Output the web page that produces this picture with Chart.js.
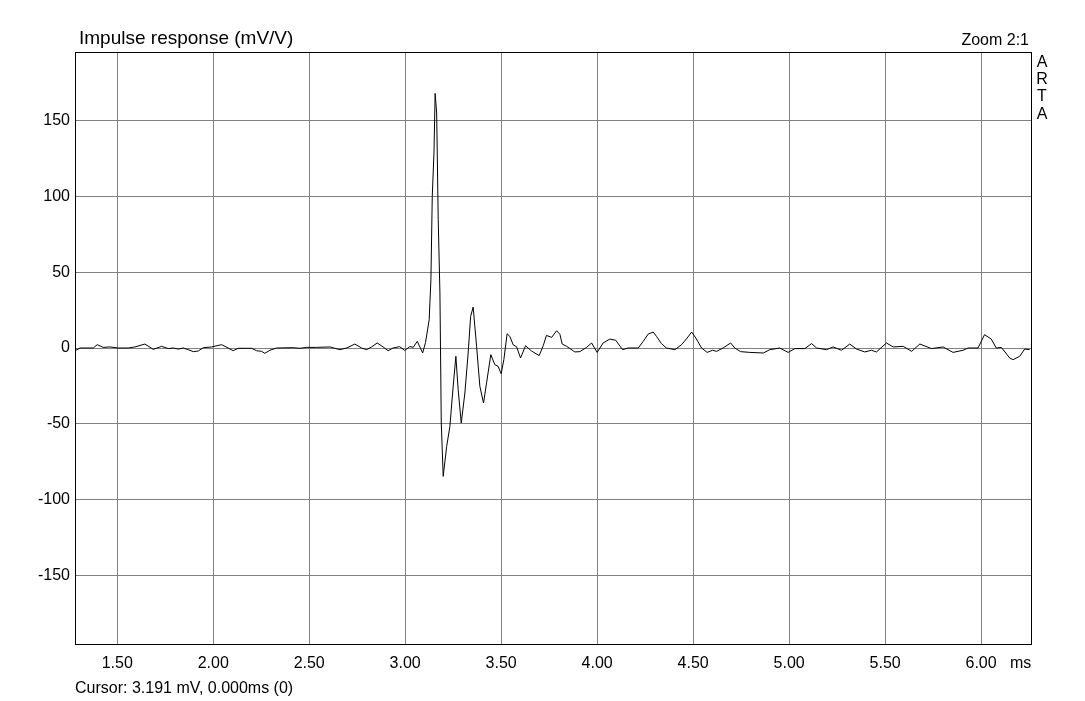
<!DOCTYPE html>
<html>
<head>
<meta charset="utf-8">
<script src="https://cdn.jsdelivr.net/npm/chart.js@4.4.1/dist/chart.umd.min.js"></script>
<style>
  html, body { margin: 0; padding: 0; background: #ffffff; }
  #wrap { width: 1085px; height: 701px; position: relative; }
  canvas { display: block; }
</style>
</head>
<body>
<div id="wrap"><canvas id="c" width="1085" height="701"></canvas></div>
<script>
// ---- data ----
const timeMs = [1.285,1.306,1.375,1.396,1.427,1.462,1.505,1.557,1.592,1.644,1.688,1.731,1.766,1.792,1.818,1.844,1.870,1.896,1.922,1.948,1.992,2.044,2.078,2.104,2.130,2.174,2.200,2.226,2.252,2.269,2.295,2.330,2.417,2.452,2.486,2.539,2.608,2.660,2.695,2.738,2.773,2.799,2.825,2.854,2.885,2.911,2.937,2.971,2.998,3.024,3.042,3.063,3.091,3.106,3.125,3.134,3.141,3.150,3.156,3.164,3.172,3.181,3.188,3.198,3.216,3.233,3.247,3.264,3.276,3.292,3.311,3.328,3.341,3.354,3.372,3.389,3.408,3.424,3.446,3.467,3.484,3.500,3.514,3.531,3.545,3.563,3.580,3.601,3.627,3.658,3.698,3.719,3.736,3.763,3.789,3.806,3.818,3.841,3.884,3.910,3.945,3.971,4.000,4.031,4.066,4.097,4.132,4.161,4.214,4.240,4.266,4.292,4.309,4.335,4.361,4.405,4.440,4.469,4.492,4.514,4.544,4.573,4.601,4.622,4.656,4.695,4.717,4.747,4.795,4.865,4.900,4.951,4.995,5.030,5.082,5.117,5.143,5.195,5.229,5.273,5.316,5.351,5.394,5.429,5.455,5.507,5.542,5.594,5.638,5.681,5.742,5.802,5.854,5.906,5.932,5.984,6.018,6.053,6.079,6.106,6.149,6.167,6.201,6.227,6.253];
const responseMv = [-1.5,0,0,2.2,0.4,0.7,0,0,0.7,2.6,-0.9,1.1,-0.4,0,-0.7,0,-1.1,-2.4,-2.0,0.2,0.7,2.2,0,-1.8,-0.2,-0.2,-0.2,-1.8,-2.2,-3.5,-1.5,0,0.2,-0.2,0.4,0.4,0.7,-1.1,0,2.6,0,-1.1,0.7,3.3,0.7,-1.8,0,0.9,-1.6,0.9,0.5,4.4,-3.3,3.7,18.7,45,100,128.7,168,155,84.7,36.3,-49.5,-84.7,-65,-51.7,-29.7,-5.5,-27.5,-49.5,-29.7,-3.3,20.9,27,1,-25.3,-36.3,-23,-4.4,-11,-12.1,-17,-7.7,9.4,7.7,2,0.9,-6.6,1.5,-2,-5,1.5,8.3,7,11.4,9,2.6,1.1,-2.6,-2.4,0.4,3.3,-2.9,3.3,5.9,5.1,-1.1,0,0,4.4,9.2,10.5,7.7,2.9,0,-1.1,2.2,6.6,10.5,6.6,0,-2.9,-1.5,-2.2,0,3.3,0,-2.4,-2.9,-3.3,-1.1,0,-2.9,-0.4,-0.4,2.9,0,-1.1,0.7,-1.5,2.6,-0.7,-2.6,-1.5,-2.6,3.3,0.7,1.1,-2.2,2.6,-0.4,0.7,-2.9,-1.5,0,0,8.8,5.9,0,0.4,-6.6,-7.7,-5.5,-0.7,-1.1];
const xTicks = [1.5, 2.0, 2.5, 3.0, 3.5, 4.0, 4.5, 5.0, 5.5, 6.0];
const yTicks = [-150, -100, -50, 0, 50, 100, 150];
const titleText = 'Impulse response (mV/V)';
const zoomText = 'Zoom 2:1';
const brandLetters = ['A', 'R', 'T', 'A'];
const xUnit = 'ms';
const cursorText = 'Cursor: 3.191 mV, 0.000ms (0)';

const FONT = '"Liberation Sans", Arial, Helvetica, sans-serif';
const points = timeMs.map((t, i) => ({ x: t, y: responseMv[i] }));

const decor = {
  id: 'decor',
  afterDraw(chart) {
    const ctx = chart.ctx;
    const a = chart.chartArea;
    ctx.save();
    ctx.strokeStyle = '#000';
    ctx.lineWidth = 1;
    ctx.strokeRect(a.left + 0.5, a.top + 0.5, a.right - a.left, a.bottom - a.top);
    ctx.fillStyle = '#000';
    ctx.textBaseline = 'alphabetic';
    ctx.font = '19px ' + FONT;
    ctx.textAlign = 'left';
    ctx.fillText(titleText, 79, 44);
    ctx.font = '16px ' + FONT;
    ctx.textAlign = 'right';
    ctx.fillText(zoomText, 1029, 45);
    ctx.textAlign = 'center';
    brandLetters.forEach((ch, i) => ctx.fillText(ch, 1042, 67 + i * 17.2));
    ctx.textAlign = 'left';
    ctx.fillText(xUnit, 1010, 668);
    ctx.fillText(cursorText, 75, 693);
    ctx.restore();
  }
};

new Chart(document.getElementById('c'), {
  type: 'line',
  data: {
    datasets: [{
      data: points,
      borderColor: '#000000',
      borderWidth: 1,
      pointRadius: 0,
      tension: 0,
      fill: false
    }]
  },
  options: {
    responsive: false,
    animation: false,
    events: [],
    layout: { padding: { top: 52, right: 54, left: 0, bottom: 0 } },
    plugins: { legend: { display: false }, tooltip: { enabled: false }, title: { display: false } },
    scales: {
      x: {
        type: 'linear',
        min: 1.28,
        max: 6.26,
        afterBuildTicks: s => { s.ticks = xTicks.map(v => ({ value: v })); },
        afterFit: s => { s.height = 57; },
        border: { display: false },
        grid: { color: '#808080', lineWidth: 1, drawTicks: false },
        ticks: {
          color: '#000',
          font: { family: FONT, size: 16 },
          padding: 10,
          maxRotation: 0,
          autoSkip: false,
          callback: v => Number(v).toFixed(2)
        }
      },
      y: {
        type: 'linear',
        min: -195.3,
        max: 195.3,
        afterBuildTicks: s => { s.ticks = yTicks.map(v => ({ value: v })); },
        afterFit: s => { s.width = 75; },
        border: { display: false },
        grid: { color: '#808080', lineWidth: 1, drawTicks: false },
        ticks: {
          color: '#000',
          font: { family: FONT, size: 16 },
          padding: 5,
          autoSkip: false,
          callback: v => String(v)
        }
      }
    }
  },
  plugins: [decor]
});
</script>
</body>
</html>
